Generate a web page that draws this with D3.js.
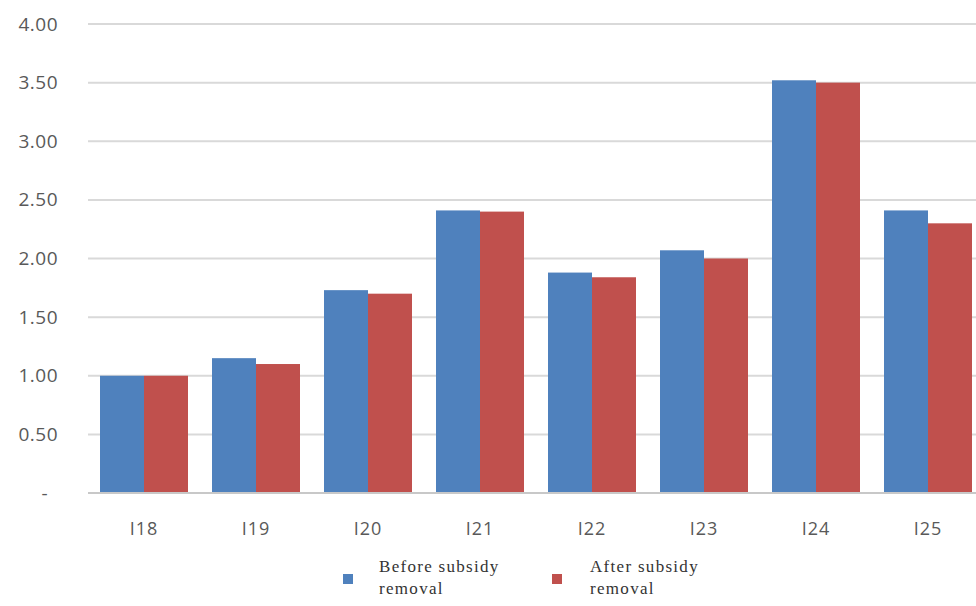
<!DOCTYPE html>
<html>
<head>
<meta charset="utf-8">
<script src="https://cdn.jsdelivr.net/npm/d3@7"></script>
<style>
  html, body { margin: 0; padding: 0; background: #fff; }
  svg { display: block; }
</style>
</head>
<body>
<svg id="chart" width="976" height="606"></svg>
<script>
// Categories and the two series of the clustered bar chart
const categories = ["I18", "I19", "I20", "I21", "I22", "I23", "I24", "I25"];
const beforeValues = [1.00, 1.15, 1.73, 2.41, 1.88, 2.07, 3.52, 2.41];
const afterValues  = [1.00, 1.10, 1.70, 2.40, 1.84, 2.00, 3.50, 2.30];
const seriesNames = ["Before subsidy removal", "After subsidy removal"];
const yTicks = [0, 0.5, 1, 1.5, 2, 2.5, 3, 3.5, 4];
const yTickLabels = ["-", "0.50", "1.00", "1.50", "2.00", "2.50", "3.00", "3.50", "4.00"];

const colors = ["#4F81BD", "#C0504D"];
const svg = d3.select("#chart");

const plot = { left: 88, right: 984, top: 24, bottom: 493 };

const x = d3.scaleBand().domain(categories).range([plot.left, plot.right]).paddingInner(0).paddingOuter(0);
const groupPad = 12;
const xs = d3.scaleBand().domain([0, 1])
  .range([groupPad, x.bandwidth() - groupPad]);
const y = d3.scaleLinear().domain([0, 4]).range([plot.bottom, plot.top]);

// Horizontal gridlines
svg.append("g")
  .selectAll("line")
  .data(yTicks.filter(d => d > 0))
  .join("line")
  .attr("x1", plot.left).attr("x2", 976)
  .attr("y1", d => y(d)).attr("y2", d => y(d))
  .attr("stroke", "#d9d9d9").attr("stroke-width", 2);

// Y axis labels (accounting style: the zero dash sits inset from the right edge)
const yAxis = d3.axisLeft(y).tickValues(yTicks)
  .tickFormat((d, i) => yTickLabels[i]).tickSize(0).tickPadding(30);
const gy = svg.append("g").attr("transform", `translate(${plot.left},0)`).call(yAxis);
gy.select(".domain").remove();
gy.selectAll("text")
  .attr("font-family", "'Open Sans', sans-serif")
  .attr("font-size", 19).attr("letter-spacing", 0.5).attr("fill", "#595959")
  .attr("dx", d => d === 0 ? -10 : 0);

// Bars
const rows = categories.map((c, i) => ({ cat: c, vals: [beforeValues[i], afterValues[i]] }));
svg.append("g")
  .selectAll("g")
  .data(rows)
  .join("g")
  .attr("transform", d => `translate(${x(d.cat)},0)`)
  .selectAll("rect")
  .data(d => d.vals.map((v, k) => ({ v, k })))
  .join("rect")
  .attr("x", d => xs(d.k))
  .attr("width", xs.bandwidth())
  .attr("y", d => y(d.v))
  .attr("height", d => y(0) - y(d.v))
  .attr("fill", d => colors[d.k]);

// X axis
const xAxis = d3.axisBottom(x).tickSize(0).tickPadding(29);
const gx = svg.append("g").attr("transform", `translate(0,${plot.bottom})`).call(xAxis);
gx.select(".domain").attr("stroke", "#c8c8c8").attr("stroke-width", 2)
  .attr("d", `M${plot.left},0H976`);
gx.selectAll("text")
  .attr("font-family", "'Open Sans', sans-serif")
  .attr("font-size", 18).attr("letter-spacing", 1).attr("fill", "#595959");

// Legend
const legendItems = [
  { x: 343, tx: 379, lines: ["Before subsidy", "removal"] },
  { x: 552, tx: 590, lines: ["After subsidy", "removal"] }
];
const lg = svg.append("g").selectAll("g").data(legendItems).join("g");
lg.append("rect")
  .attr("x", d => d.x).attr("y", 574)
  .attr("width", 10).attr("height", 10)
  .attr("fill", (d, i) => colors[i]);
lg.append("text")
  .attr("x", d => d.tx).attr("y", 572)
  .attr("font-family", "'Liberation Serif', 'Times New Roman', serif")
  .attr("font-size", 17).attr("letter-spacing", 1.3).attr("fill", "#333333")
  .selectAll("tspan")
  .data(d => d.lines.map((t, j) => ({ t, j, x: d.tx })))
  .join("tspan")
  .attr("x", d => d.x)
  .attr("dy", d => d.j === 0 ? 0 : 22)
  .text(d => d.t);
</script>
</body>
</html>
